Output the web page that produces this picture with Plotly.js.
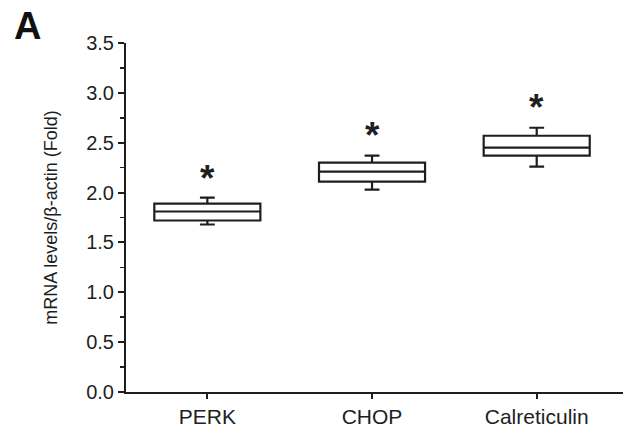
<!DOCTYPE html>
<html>
<head>
<meta charset="utf-8">
<script src="https://cdn.plot.ly/plotly-3.0.1.min.js"></script>
<style>html,body{margin:0;padding:0;background:#fff;}#chart{width:623px;height:432px;}</style>
</head>
<body>
<div id="chart"></div>
<script>
const categories = ['PERK', 'CHOP', 'Calreticulin'];
const lowerWhisker = [1.68, 2.03, 2.26];
const q1 = [1.72, 2.11, 2.37];
const median = [1.81, 2.21, 2.45];
const q3 = [1.89, 2.30, 2.57];
const upperWhisker = [1.95, 2.37, 2.65];
const starLevels = [2.18, 2.61, 2.89];
const starText = ['*', '*', '*'];
const yTitle = 'mRNA levels/β-actin (Fold)';
const panelLabel = 'A';

const boxTrace = {
  type: 'box',
  x: categories,
  q1: q1,
  median: median,
  q3: q3,
  lowerfence: lowerWhisker,
  upperfence: upperWhisker,
  boxpoints: false,
  width: 0.644,
  whiskerwidth: 0.14,
  fillcolor: 'rgba(255,255,255,0)',
  line: {color: '#1e1e1e', width: 2.2},
  hoverinfo: 'skip',
  showlegend: false
};

const annotations = categories.map((c, i) => ({
  x: c, y: starLevels[i], xref: 'x', yref: 'y',
  text: starText[i], showarrow: false,
  font: {family: 'Liberation Sans, Arial, sans-serif', size: 37, color: '#1e1e1e', weight: 'bold'},
  yanchor: 'middle', yshift: -4
}));
const W = 623, H = 432, mL = 126, mR = 0, mT = 43, mB = 40;
const pw = W - mL - mR, ph = H - mT - mB;
annotations.push({
  x: (12 - mL) / pw, y: 1 + (mT - 3) / ph, xref: 'paper', yref: 'paper', xanchor: 'left', yanchor: 'top',
  text: '<b>' + panelLabel + '</b>', showarrow: false,
  font: {family: 'Liberation Sans, Arial, sans-serif', size: 38, color: '#111'}
});

const layout = {
  width: W, height: H,
  margin: {l: mL, r: mR, t: mT, b: mB, pad: 0},
  paper_bgcolor: '#ffffff',
  plot_bgcolor: '#ffffff',
  font: {family: 'Liberation Sans, Arial, sans-serif', color: '#1e1e1e'},
  showlegend: false,
  xaxis: {
    type: 'category',
    range: [-0.494, 2.524],
    showline: true, linecolor: '#1e1e1e', linewidth: 2,
    ticks: 'outside', ticklen: 5, tickwidth: 2, tickcolor: '#1e1e1e',
    tickfont: {size: 21, color: '#1e1e1e'},
    showgrid: false, zeroline: false, fixedrange: true
  },
  yaxis: {
    range: [0, 3.5],
    dtick: 0.5, tick0: 0, tickformat: '.1f',
    showline: true, linecolor: '#1e1e1e', linewidth: 2,
    ticks: 'outside', ticklen: 6, tickwidth: 2, tickcolor: '#1e1e1e',
    minor: {dtick: 0.25, ticks: 'outside', ticklen: 4, tickwidth: 1.5, tickcolor: '#1e1e1e', showgrid: false},
    tickfont: {size: 20, color: '#1e1e1e'},
    title: {text: yTitle, font: {size: 18, color: '#1e1e1e'}, standoff: 24},
    showgrid: false, zeroline: false, fixedrange: true
  },
  annotations: annotations
};

Plotly.newPlot('chart', [boxTrace], layout, {staticPlot: true, displayModeBar: false});
</script>
</body>
</html>
